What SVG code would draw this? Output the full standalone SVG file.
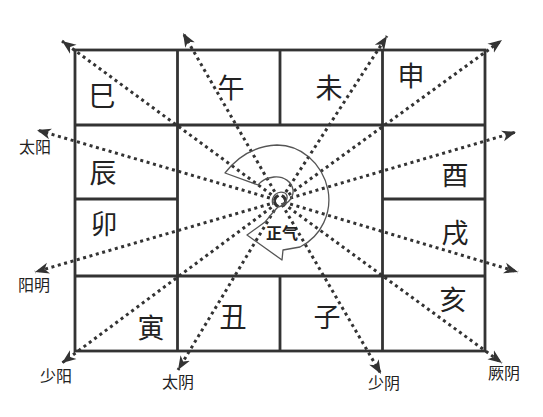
<svg xmlns="http://www.w3.org/2000/svg" width="543" height="417" viewBox="0 0 543 417">
<style>
.grid{fill:none;stroke:#333;stroke-width:2.8}
.ray{fill:none;stroke:#333;stroke-width:3;stroke-dasharray:3 3.6}
.big{font-family:"Noto Sans CJK SC","Noto Sans",sans-serif;font-size:27px;fill:#222;text-anchor:middle}
.lbl{font-family:"Noto Sans CJK SC","Noto Sans",sans-serif;font-size:16px;fill:#222;text-anchor:middle}
.qi{font-family:"Noto Sans CJK SC","Noto Sans",sans-serif;font-size:16px;font-weight:bold;fill:#222;text-anchor:middle}
.spiral{fill:none;stroke:#555;stroke-width:1.3;stroke-linejoin:round}
</style>
<defs>
<marker id="ah" markerUnits="userSpaceOnUse" markerWidth="16" markerHeight="12" viewBox="-14 -6 16 12" refX="0" refY="0" orient="auto">
<path d="M0,0 L-14,-5.5 L-10,0 L-14,5.5 Z" fill="#333"/>
</marker>
</defs>
<rect width="543" height="417" fill="#fff"/>
<g id="grid">
<rect class="grid" x="75" y="50" width="410" height="301"/>
<path class="grid" d="M75,125 H485 M75,276 H485 M177.5,50 V351 M382.5,50 V351 M280,50 V125 M280,276 V351 M75,199 H177.5 M382.5,199 H485"/>
</g>
<g id="connectors">
<path class="ray" d="M276.8,198.6 L62,41" marker-end="url(#ah)"/>
<path class="ray" d="M278,197.5 L183,33" marker-end="url(#ah)"/>
<path class="ray" d="M282.2,197.6 L387,36" marker-end="url(#ah)"/>
<path class="ray" d="M283.2,198.7 L502,40" marker-end="url(#ah)"/>
<path class="ray" d="M283.8,199.9 L516,132" marker-end="url(#ah)"/>
<path class="ray" d="M276.2,199.9 L37,130" marker-end="url(#ah)"/>
<path class="ray" d="M276.2,202.1 L35,272" marker-end="url(#ah)"/>
<path class="ray" d="M276.8,203.4 L62,363" marker-end="url(#ah)"/>
<path class="ray" d="M277.9,204.4 L178,370" marker-end="url(#ah)"/>
<path class="ray" d="M282,204.5 L381,374" marker-end="url(#ah)"/>
<path class="ray" d="M283.2,203.4 L502,363" marker-end="url(#ah)"/>
<path class="ray" d="M283.8,202.1 L518,272" marker-end="url(#ah)"/>
</g>
<g id="zhengqi">
<path class="spiral" d="M225,173 C238,156 256,146 277,145 C300,145 322,162 328,190 C332,212 322,236 300,247 L283,250 L282,260 L247,235 L265,222 C270,216 273,212 278,207 C287,205 294,198 293,190 C292,182 284,176 274,177 C266,178 261,181 258,185 Z"/>
<path class="spiral" d="M273,205 C270,196 278,190 285,193 C289,196 287,203 281,204"/>
<text class="qi" x="282" y="239">正气</text>
</g>
<g id="si"><text class="big" x="102" y="106">巳</text></g>
<g id="wu"><text class="big" x="231" y="98">午</text></g>
<g id="wei"><text class="big" x="329" y="98">未</text></g>
<g id="shen"><text class="big" x="411" y="86">申</text></g>
<g id="chen"><text class="big" x="103" y="183">辰</text></g>
<g id="you"><text class="big" x="455" y="185">酉</text></g>
<g id="mao"><text class="big" x="104" y="234">卯</text></g>
<g id="xu"><text class="big" x="455" y="243">戌</text></g>
<g id="yin"><text class="big" x="151" y="338">寅</text></g>
<g id="chou"><text class="big" x="233" y="327">丑</text></g>
<g id="zi"><text class="big" x="327" y="327">子</text></g>
<g id="hai"><text class="big" x="453" y="310">亥</text></g>
<g id="taiyang"><text class="lbl" x="35" y="153">太阳</text></g>
<g id="yangming"><text class="lbl" x="34" y="291">阳明</text></g>
<g id="shaoyang"><text class="lbl" x="56" y="382">少阳</text></g>
<g id="taiyin"><text class="lbl" x="178" y="388">太阴</text></g>
<g id="shaoyin"><text class="lbl" x="384" y="389">少阴</text></g>
<g id="jueyin"><text class="lbl" x="504" y="379">厥阴</text></g>
</svg>
